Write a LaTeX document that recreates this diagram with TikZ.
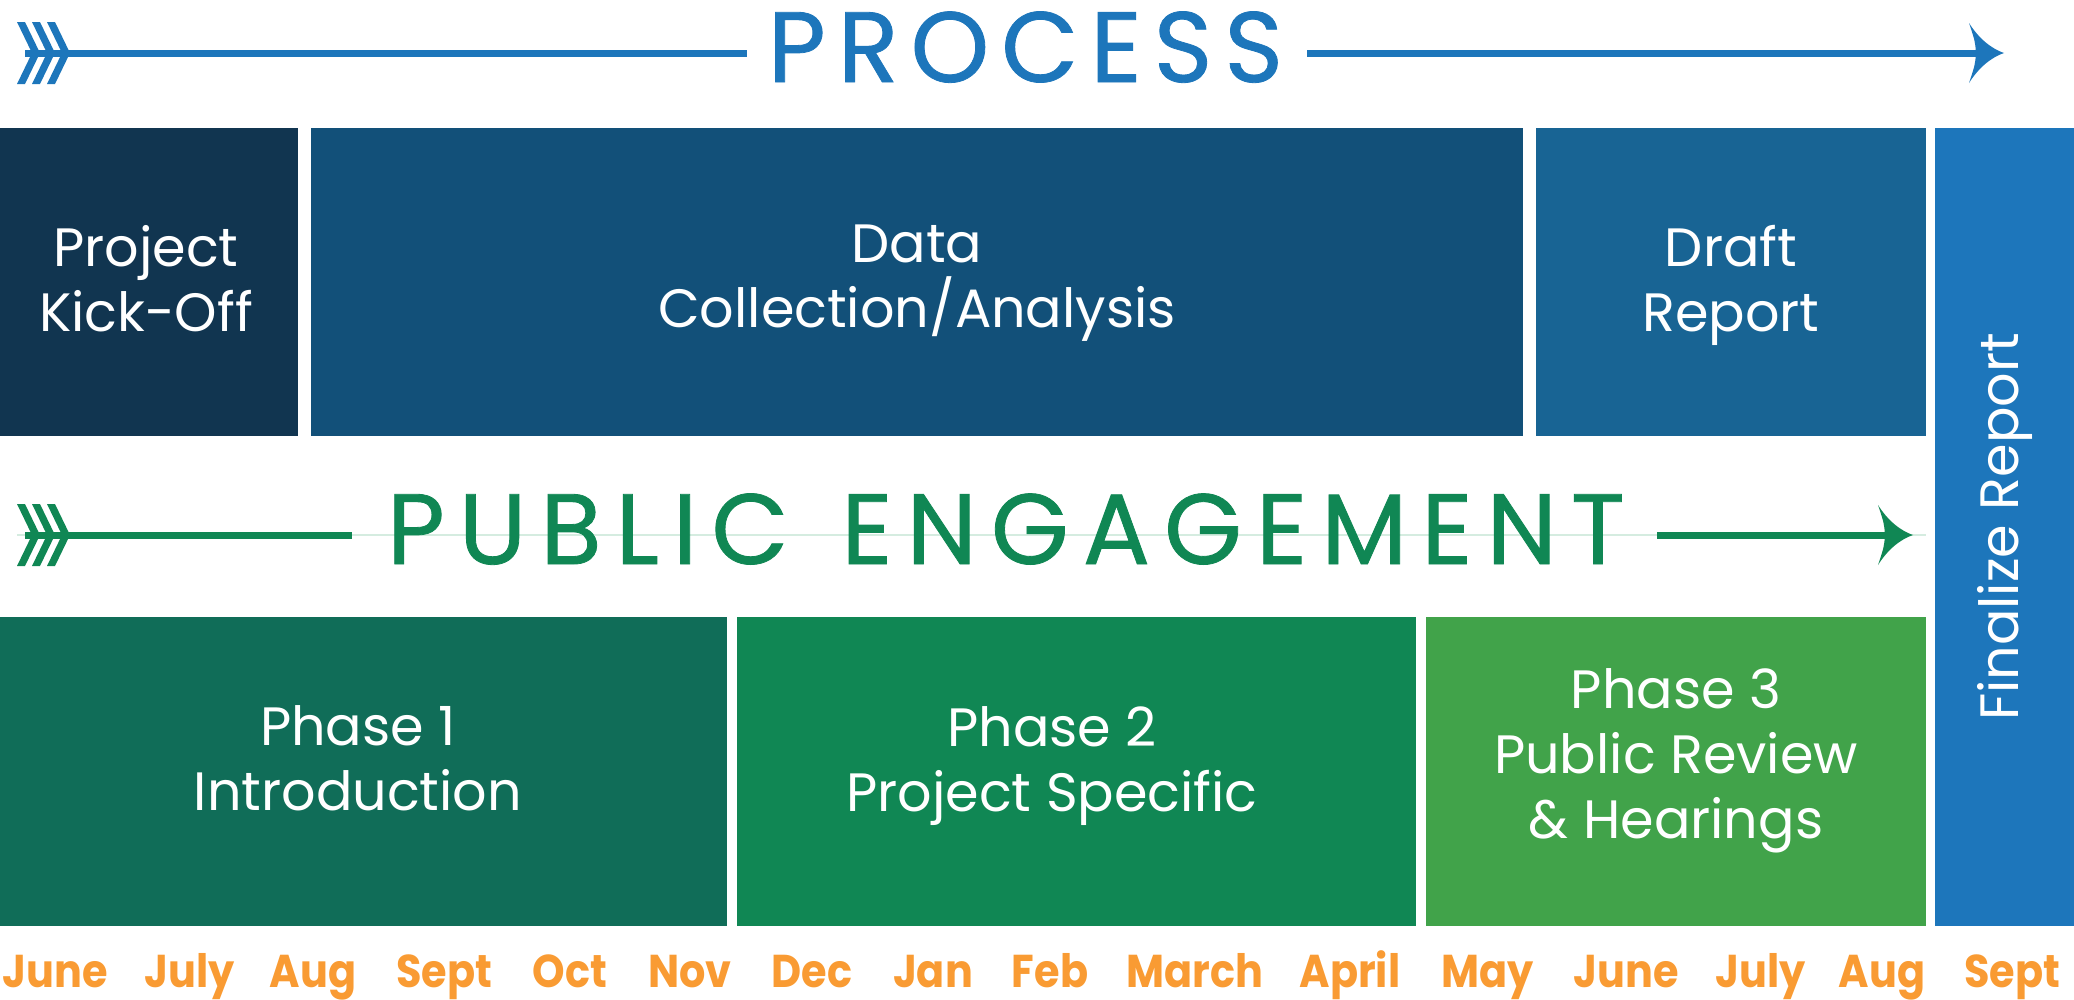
\documentclass[tikz,border=0pt]{standalone}
\usepackage{fontspec}
\setmainfont{Poppins}
\newfontfamily\titlefontP[LetterSpace=12,FakeBold=0.8]{Poppins}
\newfontfamily\titlefontE[LetterSpace=14,FakeBold=0.8]{Poppins}
\newfontfamily\monthfont[FakeStretch=0.9]{Poppins}
\definecolor{ckick}{RGB}{17,53,80}
\definecolor{cdata}{RGB}{18,80,121}
\definecolor{cdraft}{RGB}{24,100,148}
\definecolor{cfinal}{RGB}{29,118,187}
\definecolor{cproc}{RGB}{29,118,187}
\definecolor{cph1}{RGB}{16,109,88}
\definecolor{cph2}{RGB}{16,135,84}
\definecolor{cph3}{RGB}{65,163,74}
\definecolor{cpe}{RGB}{16,135,84}
\definecolor{cfaint}{RGB}{213,236,224}
\definecolor{cmonth}{RGB}{249,155,51}
\begin{document}
\begin{tikzpicture}[x=1pt,y=-1pt,
  box/.style={draw=none, inner sep=0pt, outer sep=0pt},
  boxtext/.style={inner sep=0pt, text=white, align=center, anchor=north,
    font=\fontsize{54}{65}\selectfont},
  title/.style={inner sep=0pt, anchor=base},
  month/.style={inner sep=0pt, anchor=base, text=cmonth, font=\monthfont\bfseries\fontsize{46}{48}\selectfont},
  mainline/.style={line width=7pt},
  faint/.style={line width=2pt, draw=cfaint},
  chev/.pic={
    \foreach \v in {40,55,70} {
      \fill (\v-23,-31) -- (\v-15,-31) -- (\v,0) -- (\v-15,31) -- (\v-23,31) -- (\v-8,0) -- cycle;
    }
  },
  head/.pic={
    \fill (0,0) .. controls (-12,-4) and (-25,-14) .. (-35,-30)
      .. controls (-29,-12) .. (-28,0) .. controls (-29,12) .. (-35,30)
      .. controls (-25,14) and (-12,4) .. (0,0) -- cycle;
  }
]
\useasboundingbox (0,0) rectangle (2074,999);

% ---------- PROCESS arrow ----------
\node[title, text=cproc, font=\titlefontP\fontsize{100}{110}\selectfont] (ptitle) at (1025.5,82) {PROCESS};
\coordinate (pA) at (25,53);
\coordinate (pB) at (747,53);
\coordinate (pC) at (1307,53);
\coordinate (pTip) at (2004,53);
\draw[mainline, draw=cproc] (pA) -- (pB);
\draw[mainline, draw=cproc] (pC) -- ([xshift=-27pt]pTip);
\pic[fill=cproc] at (0,53) {chev};
\pic[fill=cproc] at (pTip) {head};

% ---------- Top row boxes ----------
\node[box, fill=ckick, minimum width=298pt, minimum height=308pt] (kick) at (149,282) {};
\node[box, fill=cdata, minimum width=1212pt, minimum height=308pt] (data) at (917,282) {};
\node[box, fill=cdraft, minimum width=390pt, minimum height=308pt] (draft) at (1731,282) {};
\node[box, fill=cfinal, minimum width=139pt, minimum height=798pt] (final) at (2004.5,527) {};

\node[boxtext] (kicktxt) at (146,225) {Project\\Kick-Off};
\node[boxtext] (datatxt) at (917,225) {Data\\Collection/Analysis};
\node[boxtext] (drafttxt) at (1731,225) {Draft\\Report};
\node[inner sep=0pt, text=white, rotate=90, font=\fontsize{54}{65}\selectfont] (finaltxt) at (final.center) {Finalize Report};

% ---------- PUBLIC ENGAGEMENT arrow ----------
\draw[faint] (17,535) -- (1926,535);
\node[title, text=cpe, font=\titlefontE\fontsize{100}{110}\selectfont] (etitle) at (1006,564) {PUBLIC\hspace{12pt} ENGAGEMENT};
\coordinate (eA) at (25,535);
\coordinate (eB) at (352,535);
\coordinate (eC) at (1657,535);
\coordinate (eTip) at (1913,535);
\draw[mainline, draw=cpe] (eA) -- (eB);
\draw[mainline, draw=cpe] (eC) -- ([xshift=-27pt]eTip);
\pic[fill=cpe] at (0,535) {chev};
\pic[fill=cpe] at (eTip) {head};

% ---------- Bottom row boxes ----------
\node[box, fill=cph1, minimum width=727pt, minimum height=309pt] (ph1) at (363.5,771.5) {};
\node[box, fill=cph2, minimum width=679pt, minimum height=309pt] (ph2) at (1076.5,771.5) {};
\node[box, fill=cph3, minimum width=500pt, minimum height=309pt] (ph3) at (1676,771.5) {};

\node[boxtext] (ph1txt) at (358,705) {Phase 1\\Introduction};
\node[boxtext] (ph2txt) at (1052,706) {Phase 2\\Project Specific};
\node[boxtext] (ph3txt) at (1676,668) {Phase 3\\Public Review\\\& Hearings};

% ---------- Months ----------
\node[month] (m1) at (55,987) {June};
\node[month] (m2) at (190,987) {July};
\node[month] (m3) at (313,987) {Aug};
\node[month] (m4) at (444,987) {Sept};
\node[month] (m5) at (570,987) {Oct};
\node[month] (m6) at (690,987) {Nov};
\node[month] (m7) at (812,987) {Dec};
\node[month] (m8) at (933,987) {Jan};
\node[month] (m9) at (1050,987) {Feb};
\node[month] (m10) at (1195,987) {March};
\node[month] (m11) at (1350,987) {April};
\node[month] (m12) at (1488,987) {May};
\node[month] (m13) at (1626,987) {June};
\node[month] (m14) at (1761,987) {July};
\node[month] (m15) at (1882,987) {Aug};
\node[month] (m16) at (2012,987) {Sept};
\end{tikzpicture}
\end{document}
